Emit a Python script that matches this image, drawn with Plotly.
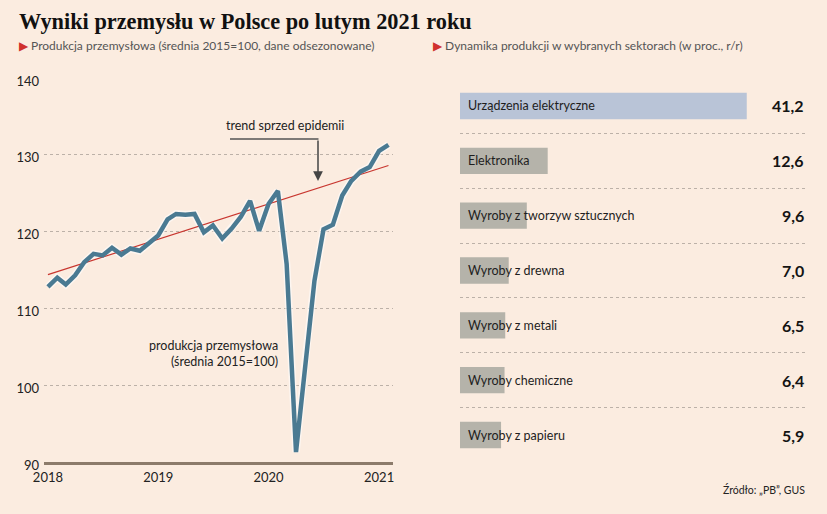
import pandas as pd
import plotly.graph_objects as go

# produkcja przemyslowa, srednia 2015=100 (sty 2018 - lut 2021)
months = pd.date_range("2018-01-01", periods=38, freq="MS")
production = [112.8, 114.0, 113.1, 114.3, 116.0, 117.1, 116.9, 117.9, 117.0, 117.8,
              117.5, 118.4, 119.5, 121.6, 122.3, 122.2, 122.3, 119.9, 120.8, 119.1,
              120.4, 121.9, 124.0, 120.1, 123.6, 125.3, 115.8, 91.3, 102.9, 113.6,
              120.3, 120.9, 124.7, 126.6, 127.8, 128.4, 130.5, 131.3]

trend_dates = ["2018-01-01", "2021-02-01"]
trend_values = [114.4, 128.6]

# dynamika produkcji w sektorach, % r/r
sectors = ["Urządzenia elektryczne", "Elektronika", "Wyroby z tworzyw sztucznych",
           "Wyroby z drewna", "Wyroby z metali", "Wyroby chemiczne", "Wyroby z papieru"]
growth = [41.2, 12.6, 9.6, 7.0, 6.5, 6.4, 5.9]

year_ticks = ["2018-01-01", "2019-01-01", "2020-01-01", "2021-01-01"]
year_labels = ["2018", "2019", "2020", "2021"]

bg = "#fbece0"
grid = "#bcb1a8"
W, H = 827, 514

def px(x):
    return x / W

def py(y):
    return 1 - y / H

fig = go.Figure()

# lewy wykres
fig.add_trace(go.Scatter(x=months, y=production, mode="lines",
                         line=dict(color="rgba(255,255,255,0.55)", width=7.5),
                         hoverinfo="skip", xaxis="x", yaxis="y"))
fig.add_trace(go.Scatter(x=trend_dates, y=trend_values, mode="lines",
                         line=dict(color="#c8362f", width=1.2), xaxis="x", yaxis="y"))
fig.add_trace(go.Scatter(x=months, y=production, mode="lines",
                         line=dict(color="#4a7a92", width=4.5), xaxis="x", yaxis="y"))

# prawy wykres
bar_colors = ["#b9c4d7"] + ["#b5b3aa"] * (len(sectors) - 1)
fig.add_trace(go.Bar(x=growth, y=list(range(len(sectors))), orientation="h",
                     marker=dict(color=bar_colors, line=dict(width=0)), width=0.48,
                     xaxis="x2", yaxis="y2"))

for i, (name, val) in enumerate(zip(sectors, growth)):
    fig.add_annotation(x=0, y=i, xref="x2", yref="y2", text=name, showarrow=False,
                       xanchor="left", yanchor="middle", xshift=6,
                       font=dict(size=12.5, color="#1e1e1e"))
    fig.add_annotation(x=50, y=i, xref="x2", yref="y2", text=f"{val:.1f}".replace(".", ","),
                       showarrow=False, xanchor="right", yanchor="middle", xshift=-2,
                       font=dict(size=16, color="#141414", family="Lato", weight="bold"))

fig.update_layout(
    width=W, height=H, margin=dict(l=0, r=0, t=0, b=0, autoexpand=False),
    paper_bgcolor=bg, plot_bgcolor=bg, showlegend=False,
    font=dict(family="Lato", color="#333"),
    xaxis=dict(domain=[px(44), px(393)], range=["2017-12-19", "2021-02-16"],
               tickvals=year_ticks, ticktext=year_labels, showgrid=False,
               showline=True, linecolor="#8c7b6b", linewidth=2.5, ticks="",
               tickfont=dict(size=13, color="#222"), ticklabelstandoff=2,
               zeroline=False, automargin=False),
    yaxis=dict(domain=[py(462), py(78)], range=[90, 140], tickvals=[90, 100, 110, 120, 130, 140],
               showgrid=True, gridcolor=grid, griddash="3px,3px", gridwidth=1,
               zeroline=False, ticks="", tickfont=dict(size=13, color="#222"),
               ticklabelstandoff=4, ticklabelshift=3, automargin=False),
    xaxis2=dict(domain=[px(460), px(808)], range=[0, 50], showgrid=False,
                showticklabels=False, zeroline=False, anchor="y2", automargin=False),
    yaxis2=dict(domain=[py(463), py(78)], range=[6.51, -0.51],
                tickvals=[k - 0.5 for k in range(len(sectors) + 1)],
                showgrid=True, gridcolor=grid, griddash="3px,3px", gridwidth=1,
                showticklabels=False, zeroline=False, anchor="x2", automargin=False),
)

# tytul i podtytuly
fig.add_annotation(x=px(17), y=py(22), xref="paper", yref="paper", xanchor="left", yanchor="middle",
                   text="<b>Wyniki przemysłu w Polsce po lutym 2021 roku</b>", showarrow=False,
                   font=dict(family="Liberation Serif", size=22.3, color="#111"))
fig.add_annotation(x=px(17), y=py(45), xref="paper", yref="paper", xanchor="left", yanchor="middle",
                   text="<span style='color:#d0312d'>▶</span> Produkcja przemysłowa (średnia 2015=100, dane odsezonowane)",
                   showarrow=False, font=dict(size=12, color="#555"))
fig.add_annotation(x=px(431), y=py(45), xref="paper", yref="paper", xanchor="left", yanchor="middle",
                   text="<span style='color:#d0312d'>▶</span> Dynamika produkcji w wybranych sektorach (w proc., r/r)",
                   showarrow=False, font=dict(size=12, color="#555"))

# opisy na lewym wykresie
fig.add_annotation(x=px(285), y=py(125), xref="paper", yref="paper", yanchor="middle",
                   text="trend sprzed epidemii", showarrow=False,
                   font=dict(size=12.5, color="#222"))
fig.add_shape(type="line", xref="paper", yref="paper", x0=px(230), x1=px(318.5),
              y0=py(139), y1=py(139), line=dict(color="#555", width=1.5))
fig.add_annotation(x=px(318), y=py(181), xref="paper", yref="paper", text="",
                   showarrow=True, ax=0, ay=-42, arrowhead=2, arrowsize=1.3,
                   arrowwidth=1.5, arrowcolor="#444")
fig.add_annotation(x=px(280), y=py(353), xref="paper", yref="paper", xanchor="right",
                   yanchor="middle", align="right",
                   text="produkcja przemysłowa<br>(średnia 2015=100)",
                   showarrow=False, font=dict(size=12.5, color="#222"))

fig.add_annotation(x=px(807), y=py(489), xref="paper", yref="paper", xanchor="right",
                   yanchor="middle", text="Źródło: „PB”, GUS", showarrow=False,
                   font=dict(size=10.5, color="#222"))

# bez domyslnego marginesu strony, zeby wykres wypelnil cale okno
fig.write_html("out.html", config={"displayModeBar": False},
               post_script="document.body.style.margin = '0';")
